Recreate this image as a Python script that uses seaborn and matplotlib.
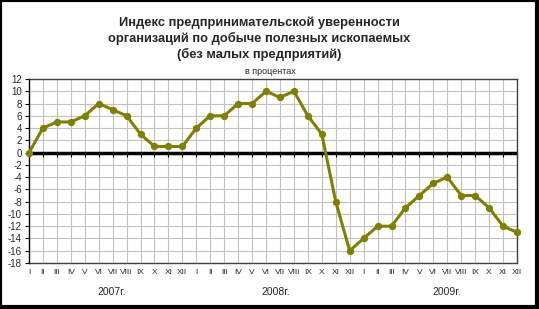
import matplotlib
matplotlib.use("Agg")
import matplotlib.pyplot as plt
import seaborn as sns
import pandas as pd
import numpy as np
from matplotlib.patches import Rectangle
from matplotlib.lines import Line2D

months = ["I", "II", "III", "IV", "V", "VI", "VII", "VIII", "IX", "X", "XI", "XII"]
years = ["2007г.", "2008г.", "2009г."]
values_2007 = [0, 4, 5, 5, 6, 8, 7, 6, 3, 1, 1, 1]
values_2008 = [4, 6, 6, 8, 8, 10, 9, 10, 6, 3, -8, -16]
values_2009 = [-14, -12, -12, -9, -7, -5, -4, -7, -7, -9, -12, -13]
title = "Индекс предпринимательской уверенности\nорганизаций по добыче полезных ископаемых\n(без малых предприятий)"
subtitle = "в процентах"
y_ticks = list(range(-18, 13, 2))

vals = values_2007 + values_2008 + values_2009
labels = months * 3
df = pd.DataFrame({"idx": np.arange(len(vals)), "value": vals})

sns.set_style("white")
plt.rcParams["font.family"] = ["Liberation Sans", "DejaVu Sans"]

fig = plt.figure(figsize=(5.39, 3.09), dpi=100)
ax = fig.add_axes([29/539, 1-263/309, (517-29)/539, (263-79)/309])

ax.grid(True, color="#c0c0c0", linewidth=0.8)
ax.set_axisbelow(True)
ax.axhline(0, color="black", linewidth=2.5, zorder=2)

sns.lineplot(data=df, x="idx", y="value", ax=ax, color="#808000", linewidth=2.2,
             marker="o", markersize=4.5, markeredgecolor="#808000", clip_on=False, zorder=3)

ax.set_xlim(0, len(vals) - 1)
ax.set_ylim(-18, 12)
ax.set_yticks(y_ticks)
ax.set_yticklabels([str(t) for t in y_ticks], fontsize=7)
ax.tick_params(axis="y", length=3, width=0.8, color="black", pad=2, direction="out", left=True)
ax.set_xticks(np.arange(len(vals)))
ax.set_xticklabels([])
ax.tick_params(axis="x", length=3, width=0.8, color="black", direction="out", bottom=True)
ax.spines["bottom"].set_position(("data", 0))
ax.spines["bottom"].set_visible(False)
ax.spines["left"].set_color("black")
ax.spines["left"].set_linewidth(1)
for s in ["top", "right"]:
    ax.spines[s].set_color("#404040")
    ax.spines[s].set_linewidth(1)
ax.set_xlabel("")
ax.set_ylabel("")

sec = ax.secondary_xaxis(0.0)
sec.set_xticks(np.arange(len(vals)))
sec.set_xticklabels(labels, fontsize=6)
sec.tick_params(length=0, pad=4)
sec.spines["bottom"].set_color("#404040")
sec.spines["bottom"].set_linewidth(1)

year_pos = [5.95, 17.7, 30.0]
for xp, yr in zip(year_pos, years):
    ax.text(xp, -0.157, yr, transform=ax.get_xaxis_transform(),
            ha="center", va="center", fontsize=7.5)

fig.text(259/539, 1 - 39/309, title, ha="center", va="center", fontsize=9.3,
         fontweight="bold", linespacing=1.32)
fig.text(270/539, 1 - 72/309, subtitle, ha="center", va="center", fontsize=6.5)

fig.patches.append(Rectangle((0, 0), 1, 1, transform=fig.transFigure, fill=False,
                             edgecolor="black", linewidth=3))
fig.lines.append(Line2D([1 - 2/539, 1 - 2/539], [0, 1], transform=fig.transFigure,
                        color="black", linewidth=3))
fig.lines.append(Line2D([0, 1], [2/309, 2/309], transform=fig.transFigure,
                        color="black", linewidth=3))

fig.savefig("out.png", dpi=100)
